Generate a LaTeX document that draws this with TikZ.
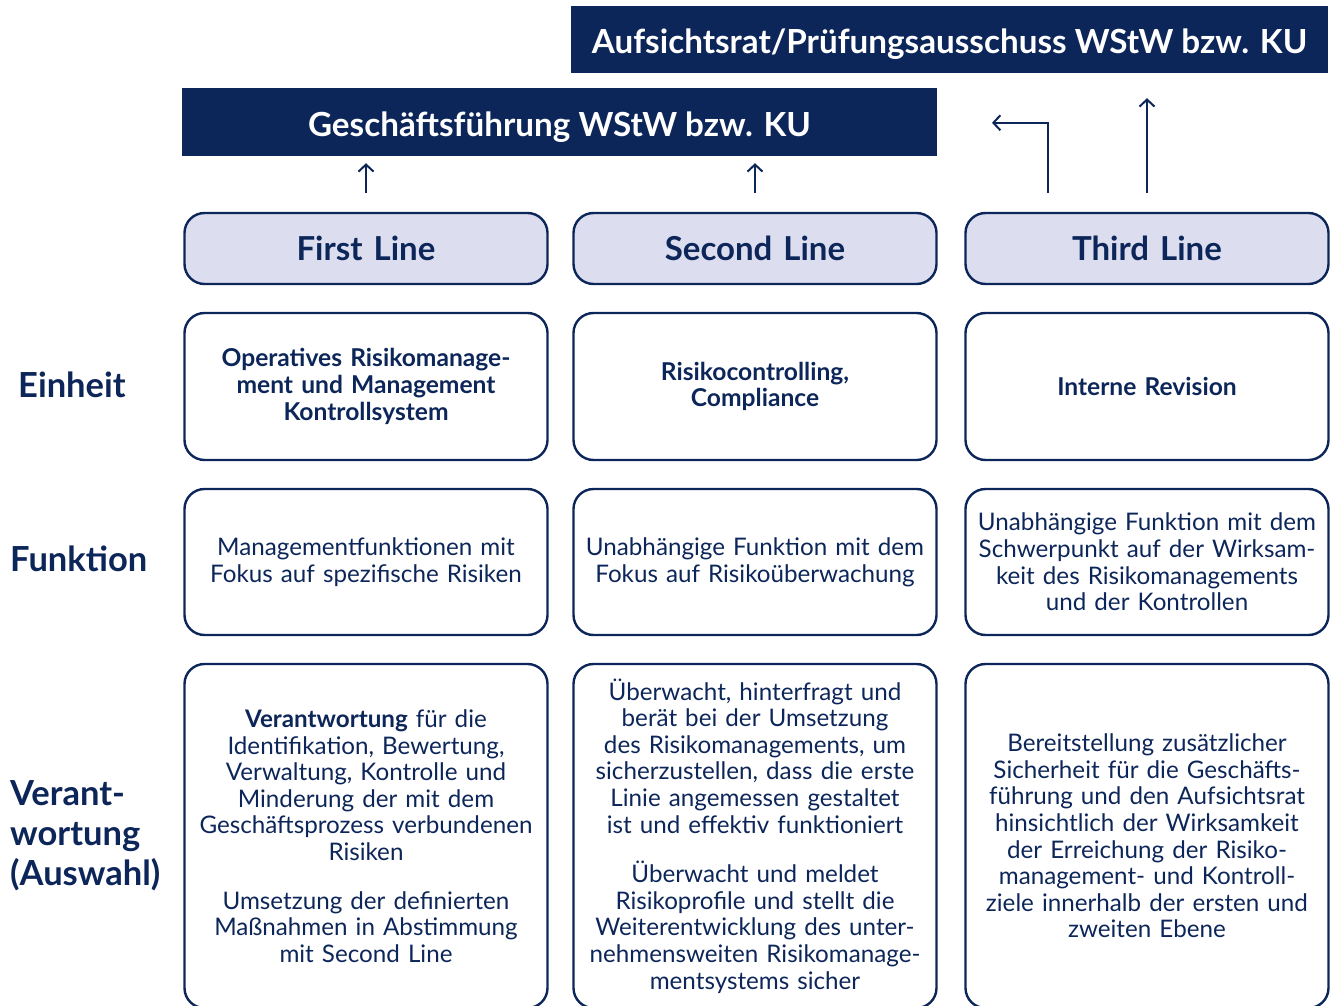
\documentclass[tikz,border=0pt]{standalone}
\usepackage{fontspec}
\setmainfont{Lato}
\usepackage{tikz}
\usetikzlibrary{arrows.meta}

\definecolor{navy}{HTML}{0D2659}
\definecolor{lavender}{HTML}{DCDEF0}

\begin{document}
\begin{tikzpicture}[x=1pt,y=-1pt,
    cell/.style={draw=navy,line width=2.4pt,rounded corners=20pt,minimum width=363pt,
                 text width=360pt,align=center,inner sep=0pt,text=navy,
                 font=\fontsize{24.2}{26.6}\selectfont},
    linebox/.style={cell,fill=lavender,minimum height=71pt,
                 font=\fontsize{33}{38}\selectfont\bfseries},
    unitbox/.style={cell,minimum height=147pt,font=\fontsize{24.6}{26.6}\selectfont\bfseries},
    funcbox/.style={cell,minimum height=146pt},
    dutybox/.style={cell,minimum height=344pt},
    headbox/.style={fill=navy,text=white,inner sep=0pt,text height=29pt,text depth=0pt,
                 font=\fontsize{33.2}{38}\selectfont\bfseries},
    rowlabel/.style={anchor=west,inner sep=0pt,align=left,text=navy,
                 font=\fontsize{34.5}{40}\selectfont\bfseries},
    arr/.style={draw=navy,line width=2pt,-{Straight Barb[length=7pt,width=15pt]}}]

    \useasboundingbox (0,0) rectangle (1338,1006);
    \clip (0,0) rectangle (1338,1006);

    % boards
    \node[headbox,minimum width=757pt,minimum height=67pt] (ar) at (949.5,39.5)
        {Aufsichtsrat/Prüfungsausschuss WStW bzw. KU};
    \node[headbox,minimum width=755pt,minimum height=68pt] (gf) at (559.5,122)
        {Geschäftsführung WStW bzw. KU};

    % three lines
    \node[linebox] (first)  at (366,248.5)  {First Line};
    \node[linebox] (second) at (755,248.5)  {Second Line};
    \node[linebox] (third)  at (1147,248.5) {Third Line};

    % reporting arrows
    \draw[arr] ([yshift=19pt]first.north) -- ([yshift=-7pt]first.north |- gf.south);
    \draw[arr] ([yshift=19pt]second.north) -- ([yshift=-7pt]second.north |- gf.south);
    \coordinate (tl) at ([xshift=-99pt,yshift=19pt]third.north);
    \draw[arr] (tl) -- ++(0,-70) -- ++(-56,0);
    \draw[arr] ([yshift=19pt]third.north) -- ([yshift=-25pt]third.north |- ar.south);

    % row labels
    \node[rowlabel] (einheit)  at (18,385) {Einheit};
    \node[rowlabel] (funktion) at (10,559) {Funktion};
    \node[rowlabel] (verant)   at (10,836) {Verant-\\wortung\\(Auswahl)};

    % Einheit
    \node[unitbox] (unit1) at (366,386.5)
        {Operatives Risikomanage-\\ment und Management\\Kontrollsystem};
    \node[unitbox] (unit2) at (755,386.5) {Risikocontrolling,\\Compliance};
    \node[unitbox] (unit3) at (1147,386.5) {Interne Revision};

    % Funktion
    \node[funcbox] (func1) at (366,562)
        {Managementfunktionen mit\\Fokus auf spezifische Risiken};
    \node[funcbox] (func2) at (755,562)
        {Unabhängige Funktion mit dem\\Fokus auf Risikoüberwachung};
    \node[funcbox] (func3) at (1147,562)
        {Unabhängige Funktion mit dem\\Schwerpunkt auf der Wirksam-\\keit des Risikomanagements\\und der Kontrollen};

    % Verantwortung
    \node[dutybox] (duty1) at (366,836)
        {\textbf{Verantwortung} für die\\Identifikation, Bewertung,\\Verwaltung, Kontrolle und\\Minderung der mit dem\\Geschäftsprozess verbundenen\\Risiken\\[22pt]
         Umsetzung der definierten\\Maßnahmen in Abstimmung\\mit Second Line};
    \node[dutybox] (duty2) at (755,836)
        {Überwacht, hinterfragt und\\berät bei der Umsetzung\\des Risikomanagements, um\\sicherzustellen, dass die erste\\Linie angemessen gestaltet\\ist und effektiv funktioniert\\[23pt]
         Überwacht und meldet\\Risikoprofile und stellt die\\Weiterentwicklung des unter-\\nehmensweiten Risikomanage-\\mentsystems sicher};
    \node[dutybox] (duty3) at (1147,836)
        {Bereitstellung zusätzlicher\\Sicherheit für die Geschäfts-\\führung und den Aufsichtsrat\\hinsichtlich der Wirksamkeit\\der Erreichung der Risiko-\\management- und Kontroll-\\ziele innerhalb der ersten und\\zweiten Ebene};
\end{tikzpicture}
\end{document}
